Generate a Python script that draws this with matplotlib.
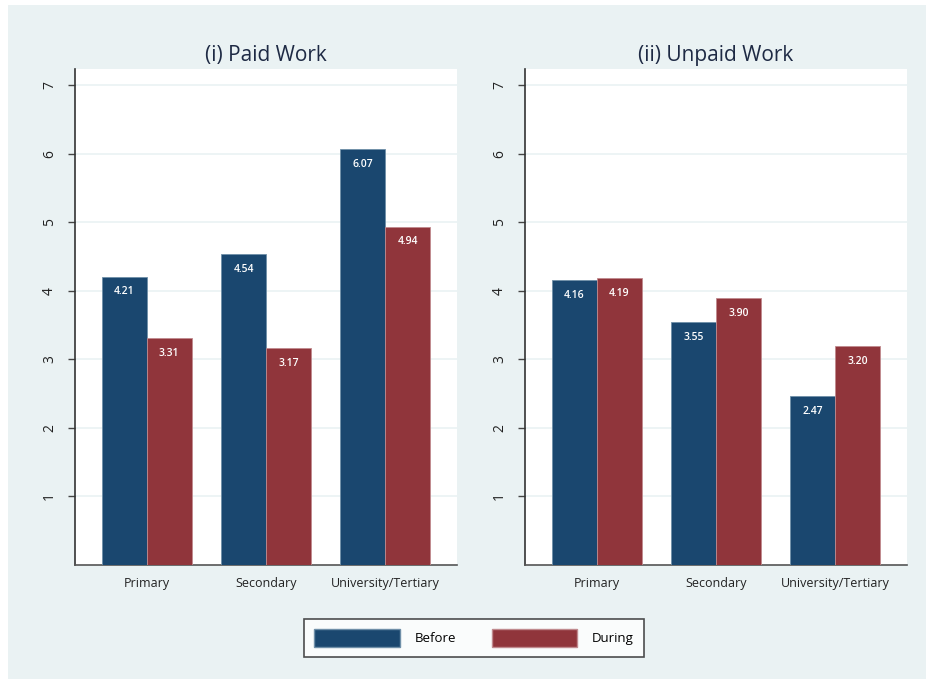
import matplotlib.pyplot as plt
import numpy as np
from matplotlib.patches import Patch

plt.rcParams['font.family'] = ['Open Sans', 'DejaVu Sans']

categories = ["Primary", "Secondary", "University/Tertiary"]
paid_before = [4.21, 4.54, 6.07]
paid_during = [3.31, 3.17, 4.94]
unpaid_before = [4.16, 3.55, 2.47]
unpaid_during = [4.19, 3.90, 3.20]
titles = ["(i) Paid Work", "(ii) Unpaid Work"]
yticks = [1, 2, 3, 4, 5, 6, 7]

navy = "#1a476f"
red = "#90353b"
bg = "#eaf2f3"

fig = plt.figure(figsize=(9.26, 6.79), dpi=100, facecolor="white")
# light panel background (white strip on left and top)
fig.patches.append(plt.Rectangle((8 / 926, 0), 1, 1 - 5 / 679, transform=fig.transFigure,
                                 facecolor=bg, edgecolor="none", zorder=-10))

x = np.arange(len(categories))
w = 0.378
lefts = [75 / 926, 525 / 926]
data = [(paid_before, paid_during), (unpaid_before, unpaid_during)]

for i in range(2):
    ax = fig.add_axes([lefts[i], 1 - 565 / 679, 382 / 926, 496 / 679])
    ax.set_facecolor("white")
    before, during = data[i]
    b1 = ax.bar(x - w / 2, before, w, color=navy, edgecolor="#6f8fa8", linewidth=0.6, zorder=3)
    b2 = ax.bar(x + w / 2, during, w, color=red, edgecolor="#c08a8e", linewidth=0.6, zorder=3)
    for bars in (b1, b2):
        for r in bars:
            h = r.get_height()
            ax.annotate("%.2f" % h, (r.get_x() + r.get_width() / 2, h), xytext=(0, -11),
                        textcoords="offset points", ha="center", va="center",
                        color="white", fontsize=7.5, fontweight="semibold", zorder=4)
    ax.set_xlim(-0.6, 2.6)
    ax.set_ylim(0, 7.24)
    ax.set_yticks(yticks)
    ax.set_yticklabels([str(t) for t in yticks], rotation=90, va="center", fontsize=10, color="#222222")
    ax.set_xticks(x)
    ax.set_xticklabels(categories, fontsize=9, color="#222222")
    ax.tick_params(axis="x", length=0, pad=9)
    ax.tick_params(axis="y", length=5, width=1, color="#444444", pad=8)
    ax.grid(axis="y", color=bg, linewidth=1.2, zorder=0)
    for s in ("top", "right"):
        ax.spines[s].set_visible(False)
    ax.spines["left"].set_color("#333333")
    ax.spines["bottom"].set_color("#555555")
    ax.spines["left"].set_linewidth(1.2)
    ax.spines["bottom"].set_linewidth(1.2)
    ax.set_title(titles[i], fontsize=15, color="#1e2a44", pad=6)

handles = [Patch(facecolor=navy, edgecolor="#6f8fa8"), Patch(facecolor=red, edgecolor="#c08a8e")]
leg = fig.legend(handles, ["Before", "During"], loc="center", bbox_to_anchor=(474 / 926, 1 - 638 / 679),
                 ncol=2, frameon=True, fancybox=False, edgecolor="#222222", fontsize=9.5,
                 handlelength=6.5, handleheight=1.8, handletextpad=1.1, columnspacing=2.7,
                 borderpad=0.75, borderaxespad=0)
leg.get_frame().set_linewidth(1.2)

plt.savefig("out.png", dpi=100, facecolor=fig.get_facecolor())
